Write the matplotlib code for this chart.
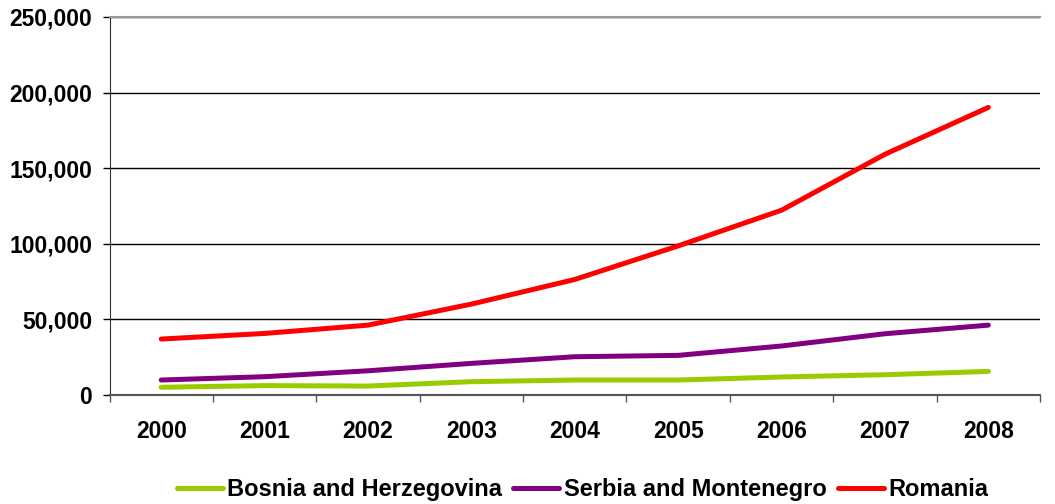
import matplotlib.pyplot as plt
from matplotlib.ticker import FuncFormatter, MultipleLocator

# =========================
# DATA
# =========================

years = ["2000", "2001", "2002", "2003", "2004", "2005", "2006", "2007", "2008"]

bosnia = [5100, 6200, 5900, 8800, 9900, 9900, 11900, 13400, 15600]
serbia = [9900, 12100, 16000, 20900, 25300, 26200, 32400, 40500, 46200]
romania = [37000, 40700, 46200, 60100, 76400, 98600, 122200, 159200, 190200]

# =========================
# PLOT
# =========================

plt.rcParams["font.family"] = ["Liberation Sans", "DejaVu Sans"]
plt.rcParams["font.weight"] = "bold"

fig = plt.figure(figsize=(10.55, 5.04), dpi=100)
ax = fig.add_axes([0.1038, 0.2163, 0.882, 0.75])

x = range(len(years))

ax.plot(x, bosnia, color="#99CC00", lw=3.6, solid_capstyle="round",
        label="Bosnia and Herzegovina", zorder=3)
ax.plot(x, serbia, color="#800080", lw=3.6, solid_capstyle="round",
        label="Serbia and Montenegro", zorder=3)
ax.plot(x, romania, color="#FF0000", lw=3.6, solid_capstyle="round",
        label="Romania", zorder=3)

ax.set_xlim(-0.5, len(years) - 0.5)
ax.set_ylim(0, 250000)

ax.set_xticks(list(x))
ax.set_xticklabels(years)
ax.set_xticks([i - 0.5 for i in range(len(years) + 1)], minor=True)
ax.tick_params(axis="x", which="major", length=0, pad=18, labelsize=16.5)
ax.tick_params(axis="x", which="minor", length=5, width=1, color="#555555")

ax.yaxis.set_major_locator(MultipleLocator(50000))
ax.yaxis.set_major_formatter(FuncFormatter(lambda v, p: f"{int(v):,}"))
ax.tick_params(axis="y", length=5, width=1, pad=7.5, labelsize=16.5)

ax.grid(axis="y", color="black", lw=1)
ax.set_axisbelow(True)

ax.spines["right"].set_visible(False)
ax.spines["top"].set_color("#999999")
ax.spines["top"].set_linewidth(1.5)
ax.spines["left"].set_color("#333333")
ax.spines["bottom"].set_color("#555555")
ax.spines["bottom"].set_linewidth(1.5)

fig.legend(loc="center", bbox_to_anchor=(0.552, 0.028), ncol=3,
           frameon=False, fontsize=17, handlelength=1.95,
           handletextpad=0.17, columnspacing=0.5)

fig.savefig("out.png", dpi=100)
